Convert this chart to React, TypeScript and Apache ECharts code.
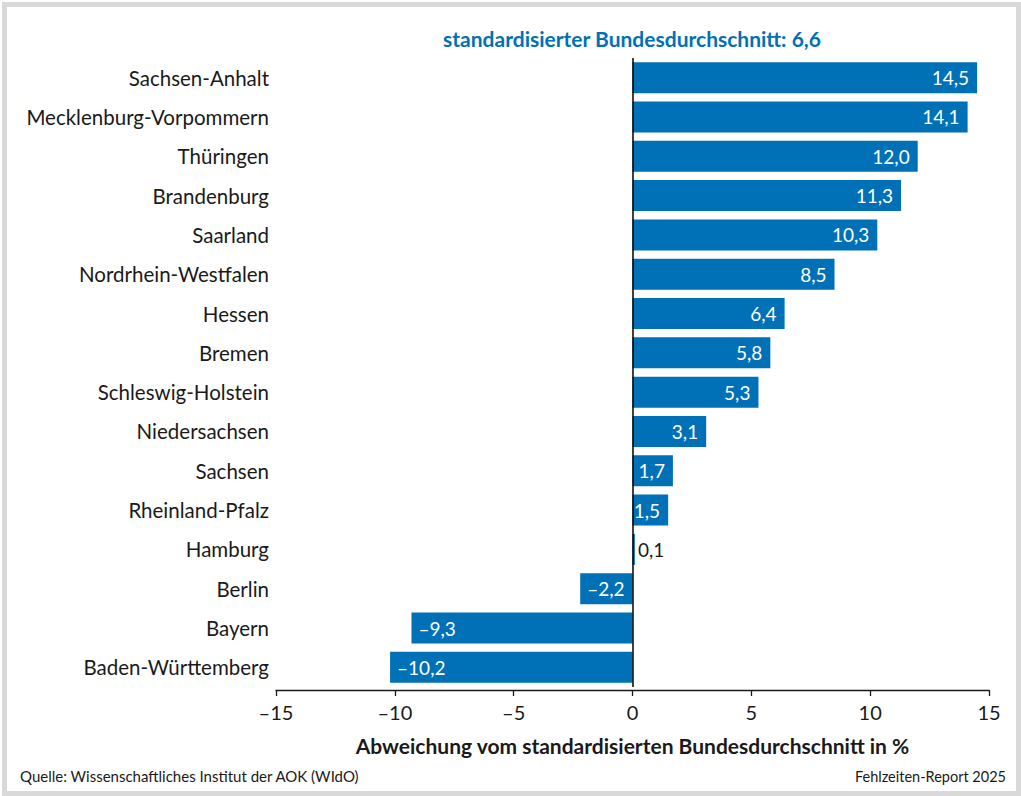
import React, { useEffect, useRef } from "react";
import * as echarts from "echarts";

const states = [
  "Sachsen-Anhalt",
  "Mecklenburg-Vorpommern",
  "Thüringen",
  "Brandenburg",
  "Saarland",
  "Nordrhein-Westfalen",
  "Hessen",
  "Bremen",
  "Schleswig-Holstein",
  "Niedersachsen",
  "Sachsen",
  "Rheinland-Pfalz",
  "Hamburg",
  "Berlin",
  "Bayern",
  "Baden-Württemberg",
];
const values = [14.5, 14.1, 12.0, 11.3, 10.3, 8.5, 6.4, 5.8, 5.3, 3.1, 1.7, 1.5, 0.1, -2.2, -9.3, -10.2];
const xTicks = { min: -15, max: 15, interval: 5 };

const titleText = "standardisierter Bundesdurchschnitt: 6,6";
const axisTitle = "Abweichung vom standardisierten Bundesdurchschnitt in %";
const sourceText = "Quelle: Wissenschaftliches Institut der AOK (WIdO)";
const reportText = "Fehlzeiten-Report 2025";

const FONT = "Lato, 'Noto Sans', sans-serif";
const BLUE = "#0071b7";
const TEXT = "#1a1a1a";

const fmt = (v: number) => {
  const s = Math.abs(v).toFixed(1).replace(".", ",");
  return v < 0 ? "\u2013" + s : s;
};

export default function App() {
  const ref = useRef<HTMLDivElement>(null);
  useEffect(() => {
    if (!ref.current) return;
    const chart = echarts.init(ref.current, undefined, { renderer: "svg" });
    const data = values.map((v) => {
      let label: any;
      if (v < 0) label = { position: "insideLeft", distance: 7, color: "#fff" };
      else if (v < 0.5) label = { position: "right", distance: 3, color: TEXT };
      else label = { position: "insideRight", distance: 8, color: "#fff" };
      return { value: v, label };
    });
    chart.setOption({
      animation: false,
      textStyle: { fontFamily: FONT },
      grid: { left: 276, right: 32, top: 58, height: 629, containLabel: false },
      xAxis: {
        type: "value",
        min: xTicks.min,
        max: xTicks.max,
        interval: xTicks.interval,
        offset: 3,
        axisLine: { show: true, lineStyle: { color: "#1a1a1a", width: 1.3 } },
        axisTick: { show: true, length: 6, lineStyle: { color: "#1a1a1a", width: 1.3 } },
        splitLine: { show: false },
        axisLabel: {
          color: TEXT,
          fontSize: 20,
          fontFamily: FONT,
          margin: 12,
          formatter: (v: number) => (v < 0 ? "\u2013" + Math.abs(v) : String(v)),
        },
        name: axisTitle,
        nameLocation: "middle",
        nameGap: 45,
        nameTextStyle: { color: TEXT, fontSize: 21, fontWeight: "bold", fontFamily: FONT },
      },
      yAxis: {
        type: "category",
        inverse: true,
        data: states,
        axisLine: { show: false },
        axisTick: { show: false },
        splitLine: { show: false },
        axisLabel: { color: TEXT, fontSize: 20.5, fontFamily: FONT, margin: 7 },
      },
      series: [
        {
          type: "bar",
          data,
          barWidth: 31,
          itemStyle: { color: BLUE },
          label: {
            show: true,
            fontSize: 19,
            fontFamily: FONT,
            formatter: (p: any) => fmt(p.value),
          },
          markLine: {
            silent: true,
            symbol: "none",
            label: { show: false },
            lineStyle: { color: "#000", width: 1.5, type: "solid" },
            data: [{ xAxis: 0 }],
          },
        },
      ],
      graphic: [
        {
          type: "text",
          x: 632,
          y: 38,
          style: {
            text: titleText,
            fill: BLUE,
            fontSize: 21,
            fontWeight: "bold",
            fontFamily: FONT,
            textAlign: "center",
            textVerticalAlign: "middle",
          },
        },
        {
          type: "text",
          x: 20,
          y: 776,
          style: {
            text: sourceText,
            fill: TEXT,
            fontSize: 15,
            fontFamily: FONT,
            textAlign: "left",
            textVerticalAlign: "middle",
          },
        },
        {
          type: "text",
          x: 1006,
          y: 776,
          style: {
            text: reportText,
            fill: TEXT,
            fontSize: 14.5,
            fontFamily: FONT,
            textAlign: "right",
            textVerticalAlign: "middle",
          },
        },
      ],
    });
    return () => chart.dispose();
  }, []);
  return (
    <div style={{ position: "fixed", left: 0, top: 0, width: 1021, height: 796, background: "#fff" }}>
      <div
        style={{
          position: "absolute",
          left: 2,
          top: 2,
          width: 1019,
          height: 794,
          boxSizing: "border-box",
          border: "5px solid #d9d9d9",
        }}
      />
      <div ref={ref} style={{ position: "absolute", left: 0, top: 0, width: 1021, height: 796 }} />
    </div>
  );
}
